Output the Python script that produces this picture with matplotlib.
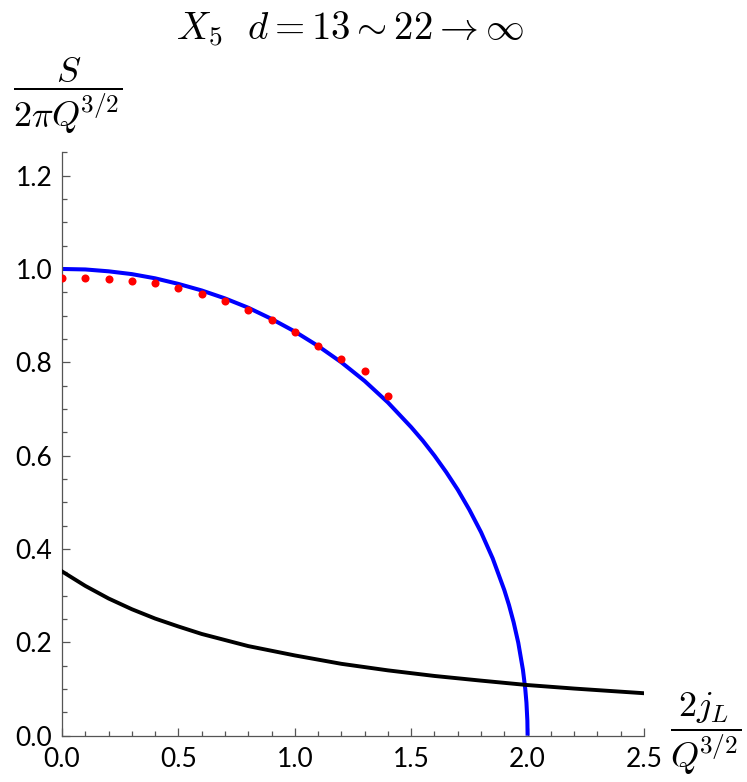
import matplotlib
matplotlib.use("Agg")
import matplotlib.pyplot as plt
from matplotlib.ticker import MultipleLocator, FormatStrFormatter

# ---- data ----
blue_x = [0.0, 0.1, 0.2, 0.3, 0.4, 0.5, 0.6, 0.7, 0.8, 0.9, 1.0, 1.1, 1.2, 1.3,
          1.4, 1.5, 1.55, 1.6, 1.65, 1.7, 1.75, 1.8, 1.85, 1.9, 1.92, 1.94,
          1.96, 1.98, 1.99, 1.995, 1.999, 2.0]
blue_y = [1.000, 0.999, 0.995, 0.989, 0.980, 0.968, 0.954, 0.937, 0.917, 0.893,
          0.866, 0.835, 0.800, 0.760, 0.714, 0.661, 0.632, 0.600, 0.565, 0.527,
          0.484, 0.436, 0.380, 0.312, 0.280, 0.243, 0.199, 0.141, 0.100, 0.071,
          0.032, 0.0]

black_x = [0.0, 0.1, 0.2, 0.3, 0.4, 0.5, 0.6, 0.8, 1.0, 1.2, 1.4, 1.6, 1.8,
           2.0, 2.2, 2.5]
black_y = [0.352, 0.321, 0.294, 0.271, 0.251, 0.234, 0.218, 0.192, 0.172,
           0.154, 0.140, 0.128, 0.118, 0.1085, 0.101, 0.091]

red_x = [0.0, 0.1, 0.2, 0.3, 0.4, 0.5, 0.6, 0.7, 0.8, 0.9, 1.0, 1.1, 1.2, 1.3, 1.4]
red_y = [0.981, 0.981, 0.979, 0.975, 0.969, 0.960, 0.947, 0.931, 0.912, 0.890,
         0.864, 0.834, 0.808, 0.782, 0.727]

title = r"$X_5\ \ d=13\sim 22\to\infty$"
ylabel = r"$\dfrac{S}{2\pi Q^{\!3/2}}$"
xlabel = r"$\dfrac{2j_L}{Q^{\!3/2}}$"

plt.rcParams['mathtext.fontset'] = 'cm'
plt.rcParams['font.family'] = ['Lato', 'DejaVu Sans']

fig = plt.figure(figsize=(7.47, 7.82), dpi=100)
ax = fig.add_axes([62/747, 46.3/782, 582/747, 583.4/782])

ax.plot(blue_x, blue_y, color='#0000ff', lw=2.9, zorder=2, solid_capstyle='butt')
ax.plot(black_x, black_y, color='black', lw=2.8, zorder=3)
ax.plot(red_x, red_y, 'o', color='#ff0000', ms=5.8, mec='none', zorder=4)

ax.set_xlim(0, 2.5)
ax.set_ylim(0, 1.25)
for s in ['top', 'right']:
    ax.spines[s].set_visible(False)
for s in ['left', 'bottom']:
    ax.spines[s].set_color('#555555')
    ax.spines[s].set_linewidth(0.9)

ax.xaxis.set_major_locator(MultipleLocator(0.5))
ax.xaxis.set_minor_locator(MultipleLocator(0.1))
ax.yaxis.set_major_locator(MultipleLocator(0.2))
ax.yaxis.set_minor_locator(MultipleLocator(0.05))
ax.xaxis.set_major_formatter(FormatStrFormatter('%.1f'))
ax.yaxis.set_major_formatter(FormatStrFormatter('%.1f'))
ax.tick_params(which='major', direction='in', length=6, width=0.9, color='#555555',
               labelsize=19, pad=7)
ax.tick_params(which='minor', direction='in', length=3.5, width=0.9, color='#555555')
ax.tick_params(axis='x', which='major', pad=8)

fig.text(350/747, 1 - 29/782, title, ha='center', va='center', fontsize=28)
fig.text(68/747, 1 - 96/782, ylabel, ha='center', va='center', fontsize=26)
fig.text(706/747, 1 - 734/782, xlabel, ha='center', va='center', fontsize=26)

fig.savefig('out.png', dpi=100)
